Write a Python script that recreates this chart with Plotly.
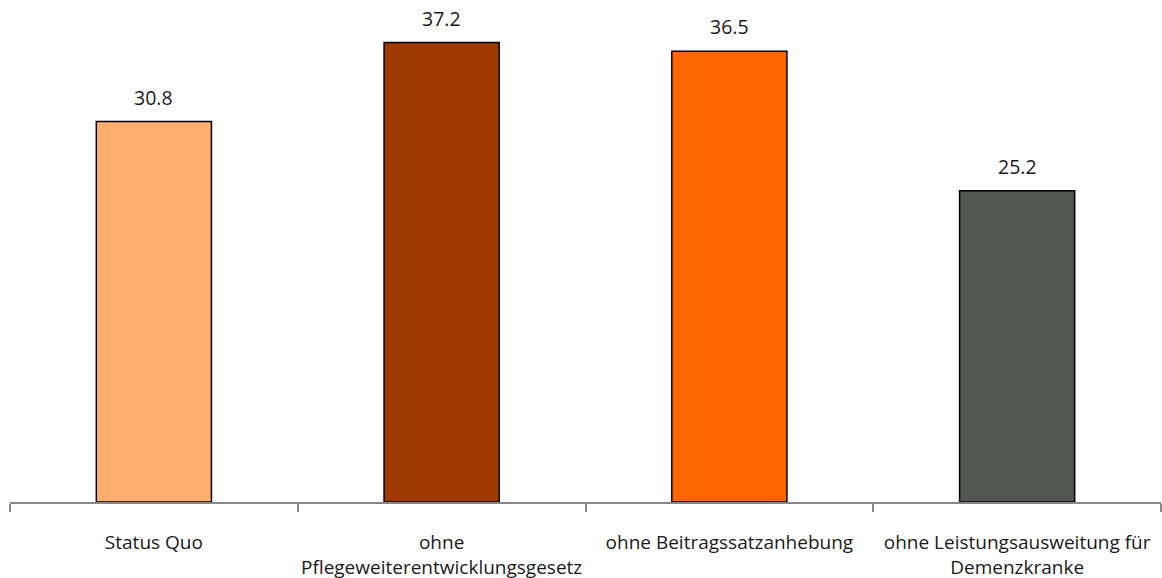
import plotly.graph_objects as go

categories = [
    "Status Quo",
    "ohne<br>Pflegeweiterentwicklungsgesetz",
    "ohne Beitragssatzanhebung",
    "ohne Leistungsausweitung für<br>Demenzkranke",
]
values = [30.8, 37.2, 36.5, 25.2]
colors = ["#FFAF6D", "#9E3A00", "#FF6600", "#515651"]

FONT = "'Open Sans', sans-serif"

fig = go.Figure(
    go.Bar(
        x=categories,
        y=values,
        marker=dict(color=colors, line=dict(color="#000000", width=1.5)),
        width=0.4,
        hoverinfo="skip",
    )
)

for c, v in zip(categories, values):
    fig.add_annotation(
        x=c, y=v, text=f"{v:.1f}", showarrow=False,
        yanchor="bottom", yshift=9,
        font=dict(family=FONT, size=19.5, color="#1a1a1a"),
    )

fig.update_layout(
    width=1162, height=578,
    margin=dict(l=10, r=1, t=8, b=76, autoexpand=False),
    paper_bgcolor="white", plot_bgcolor="white",
    showlegend=False,
    font=dict(family=FONT, size=19, color="#1a1a1a"),
)
fig.update_xaxes(
    type="category", automargin=False, tickangle=0,
    showline=True, linecolor="#878787", linewidth=2,
    ticks="outside", tickson="boundaries", ticklen=8, tickcolor="#878787", tickwidth=2,
    ticklabelstandoff=22,
    showgrid=False,
    tickfont=dict(family=FONT, size=19, color="#1a1a1a"),
)
fig.update_yaxes(range=[0, 40], visible=False, showgrid=False, zeroline=False, automargin=False)

fig.write_html(
    "out.html",
    config={"displayModeBar": False},
    post_script="document.body.style.margin='0';",
)
